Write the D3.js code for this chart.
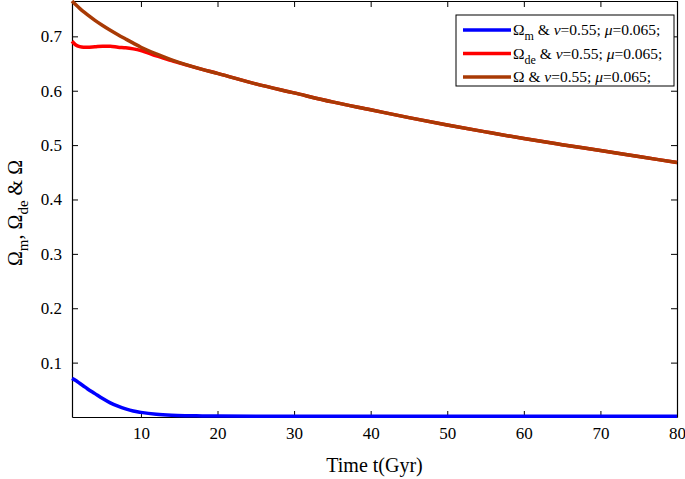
<!DOCTYPE html>
<html>
<head>
<meta charset="utf-8">
<script src="https://cdn.jsdelivr.net/npm/d3@7"></script>
<style>
  body { margin: 0; background: #fff; }
  svg text { font-family: "Liberation Serif", "Times New Roman", serif; fill: #000; }
</style>
</head>
<body>
<div id="chart-area"></div>
<script>
// time axis (Gyr) and the three curves
const time   = [1, 1.5, 2, 2.5, 3, 4, 5, 6, 7, 8, 9, 10, 12, 14, 16, 18, 20, 25, 30, 35, 40, 45, 50, 55, 60, 65, 70, 75, 80];
const omegaM = [0.071, 0.067, 0.062, 0.057, 0.052, 0.043, 0.034, 0.026, 0.020, 0.015, 0.011, 0.0085, 0.005, 0.0032, 0.0024, 0.002, 0.0018,
                0.0015, 0.0015, 0.0015, 0.0015, 0.0015, 0.0015, 0.0015, 0.0015, 0.0015, 0.0015, 0.0015, 0.0015];
const omegaDE = [0.691, 0.684, 0.681, 0.680, 0.680, 0.681, 0.682, 0.682, 0.680, 0.679, 0.677, 0.674, 0.664, 0.6555, 0.647, 0.6392, 0.632,
                 0.6125, 0.596, 0.5795, 0.565, 0.5505, 0.537, 0.5243, 0.512, 0.5008, 0.490, 0.479, 0.468];
const omega  = [0.765, 0.758, 0.7515, 0.7455, 0.740, 0.7295, 0.720, 0.7112, 0.703, 0.6952, 0.6875, 0.680, 0.6676, 0.6568, 0.6474, 0.6392, 0.632,
                0.6125, 0.596, 0.5795, 0.565, 0.5505, 0.537, 0.5243, 0.512, 0.5008, 0.490, 0.479, 0.468];

const xTicks = [10, 20, 30, 40, 50, 60, 70, 80];
const yTicks = [0.1, 0.2, 0.3, 0.4, 0.5, 0.6, 0.7];

const seriesNames = [["m"], ["de"], [null]];
const seriesColors = ["#0000ff", "#ff0000", "#a83a05"];
const legendTail = ["0.55", "0.065"];

const MARGIN = { LEFT: 72, RIGHT: 8, TOP: 1, BOTTOM: 62 };
const WIDTH = 685 - MARGIN.LEFT - MARGIN.RIGHT;
const HEIGHT = 479 - MARGIN.TOP - MARGIN.BOTTOM;

const svg = d3.select("#chart-area").append("svg")
  .attr("width", 685)
  .attr("height", 479)

const g = svg.append("g")
  .attr("transform", `translate(${MARGIN.LEFT}, ${MARGIN.TOP})`)

const x = d3.scaleLinear()
  .domain([1, 80])
  .range([0, WIDTH])

const y = d3.scaleLinear()
  .domain([0, 0.765])
  .range([HEIGHT, 0])

// axes, ticks pointing inward on all four sides
const tickLen = 6;
const axes = [
  { call: d3.axisBottom(x).tickValues(xTicks).tickSizeInner(-tickLen).tickSizeOuter(0).tickPadding(10).tickFormat(d3.format("d")), tr: `translate(0, ${HEIGHT})`, labels: true },
  { call: d3.axisTop(x).tickValues(xTicks).tickSizeInner(-tickLen).tickSizeOuter(0), tr: "translate(0,0)", labels: false },
  { call: d3.axisLeft(y).tickValues(yTicks).tickSizeInner(-tickLen).tickSizeOuter(0).tickPadding(10).tickFormat(d3.format(".1f")), tr: "translate(0,0)", labels: true },
  { call: d3.axisRight(y).tickValues(yTicks).tickSizeInner(-tickLen).tickSizeOuter(0), tr: `translate(${WIDTH}, 0)`, labels: false }
];

axes.forEach(a => {
  const ax = g.append("g")
    .attr("transform", a.tr)
    .call(a.call)
  ax.select(".domain").attr("stroke", "#000").attr("stroke-width", 1.2)
  ax.selectAll(".tick line").attr("stroke", "#000").attr("stroke-width", 1)
  ax.selectAll(".tick text")
    .style("font-family", "Liberation Serif")
    .style("font-size", "17px")
    .attr("fill", "#000")
  if (!a.labels) ax.selectAll(".tick text").remove();
});

// lines
const lineGen = vals => d3.line()
  .x((d, i) => x(time[i]))
  .y(d => y(d))
  .curve(d3.curveMonotoneX)(vals);

[omegaM, omegaDE, omega].forEach((vals, i) => {
  g.append("path")
    .attr("d", lineGen(vals))
    .attr("fill", "none")
    .attr("stroke", seriesColors[i])
    .attr("stroke-width", 3.5)
    .attr("stroke-linejoin", "round")
});

// axis labels
g.append("text")
  .attr("x", WIDTH / 2)
  .attr("y", HEIGHT + 55)
  .attr("text-anchor", "middle")
  .style("font-size", "20px")
  .text("Time t(Gyr)");

const yLab = g.append("text")
  .attr("transform", `translate(-50, ${HEIGHT / 2 + 4}) rotate(-90)`)
  .attr("text-anchor", "middle")
  .style("font-size", "20px");
yLab.append("tspan").text("Ω");
yLab.append("tspan").attr("dy", 6).style("font-size", "15px").text("m");
yLab.append("tspan").attr("dy", -6).text(", Ω");
yLab.append("tspan").attr("dy", 6).style("font-size", "15px").text("de");
yLab.append("tspan").attr("dy", -6).text(" & Ω");

// legend
const legend = svg.append("g")
  .attr("transform", "translate(456, 15)")

legend.append("rect")
  .attr("width", 218)
  .attr("height", 71)
  .attr("fill", "#fff")
  .attr("stroke", "#000")
  .attr("stroke-width", 1)

seriesNames.forEach((sub, i) => {
  const rowY = 15 + i * 23.5;
  legend.append("line")
    .attr("x1", 7).attr("x2", 55)
    .attr("y1", rowY).attr("y2", rowY)
    .attr("stroke", seriesColors[i])
    .attr("stroke-width", 3.5)
  const t = legend.append("text")
    .attr("x", 57)
    .attr("y", rowY + 5)
    .style("font-size", "15.5px");
  t.append("tspan").text("Ω");
  if (sub[0]) {
    t.append("tspan").attr("dy", 5).style("font-size", "12px").text(sub[0]);
    t.append("tspan").attr("dy", -5).text(" & ");
  } else {
    t.append("tspan").text(" & ");
  }
  t.append("tspan").style("font-style", "italic").text("ν");
  t.append("tspan").text("=" + legendTail[0] + "; ");
  t.append("tspan").style("font-style", "italic").text("μ");
  t.append("tspan").text("=" + legendTail[1] + ";");
});
</script>
</body>
</html>
